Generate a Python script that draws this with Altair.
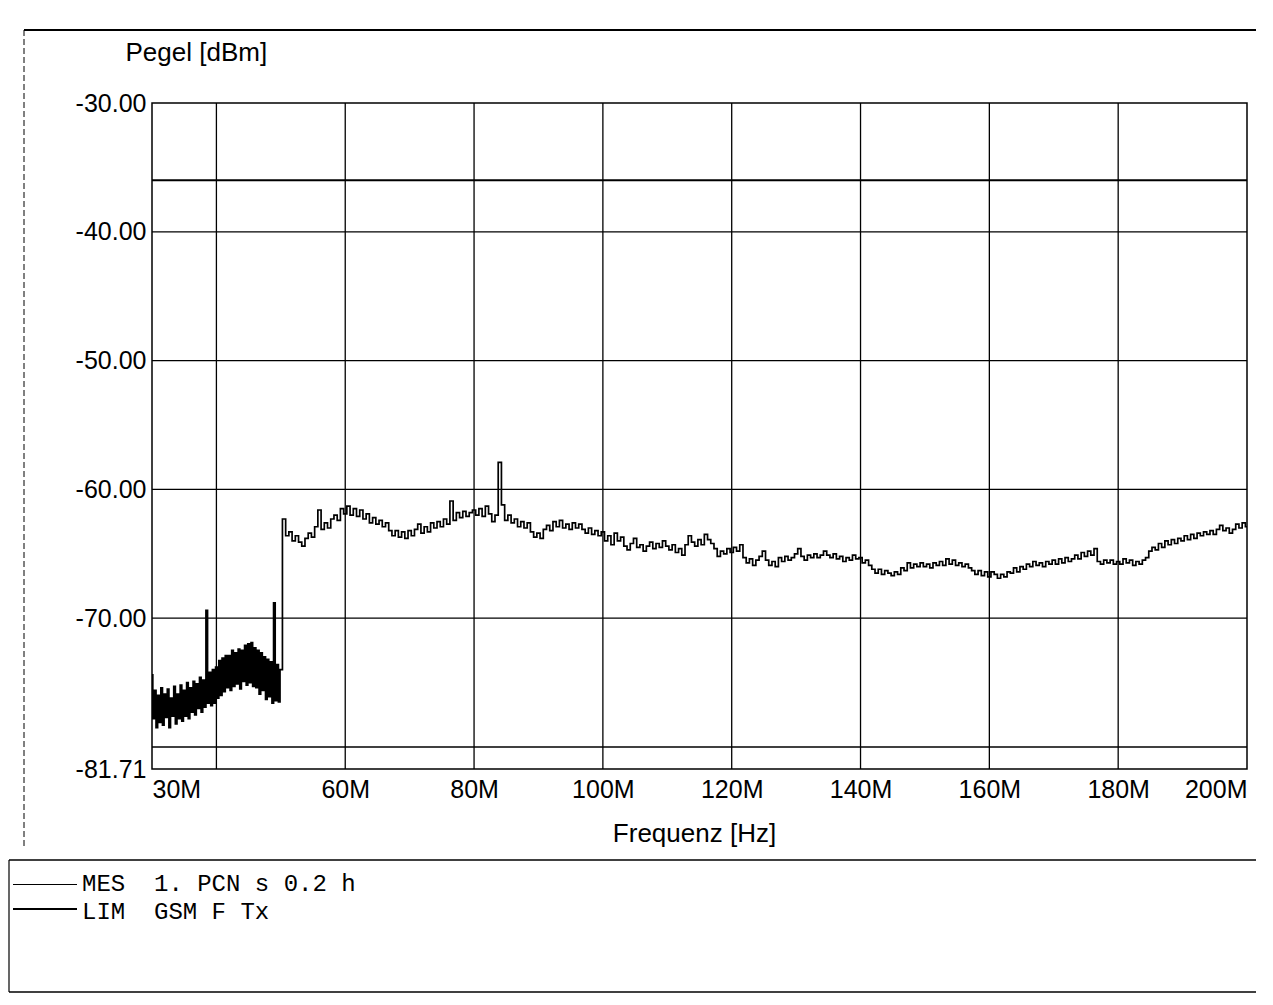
import altair as alt
import pandas as pd

# ---------------- data ----------------
X_TICKS = [30, 60, 80, 100, 120, 140, 160, 180, 200]          # MHz, shown as "xxM"
Y_TICKS = [-30.0, -40.0, -50.0, -60.0, -70.0, -81.71]         # dBm
GRID_X = [40, 60, 80, 100, 120, 140, 160, 180]
GRID_Y = [-40, -50, -60, -70, -80]
LIMIT_DBM = [-36.0]                                           # LIM  GSM F Tx
LEGEND_MES = "MES  1. PCN s 0.2 h"
LEGEND_LIM = "LIM  GSM F Tx"

# sweep 1: 30.00 .. 50.00 MHz, 0.25 MHz points
SEG1_START, SEG1_STEP = 30.0, 0.25
SEG1_LEVEL = [
    -74.4, -77.8, -75.6, -78.5,
    -76.0, -78.1, -75.4, -78.3,
    -75.9, -77.7, -75.5, -78.5,
    -76.2, -77.6, -75.3, -78.2,
    -75.9, -77.8, -75.2, -78.0,
    -75.6, -77.6, -75.0, -77.8,
    -75.4, -77.3, -74.9, -77.5,
    -75.1, -77.0, -74.6, -77.3,
    -74.8, -76.9, -69.4, -76.6,
    -74.2, -76.8, -74.0, -76.6,
    -73.8, -76.2, -73.3, -76.0,
    -73.1, -75.7, -72.9, -75.4,
    -72.9, -75.6, -72.5, -75.3,
    -72.7, -75.1, -72.4, -75.5,
    -72.5, -74.9, -72.1, -75.2,
    -72.0, -75.0, -71.9, -75.3,
    -72.3, -75.4, -72.5, -75.9,
    -72.7, -75.6, -73.0, -76.3,
    -73.2, -76.1, -73.4, -76.6,
    -68.8, -76.4, -73.6, -76.5,
    -74.0,
]

# sweep 2: 50.5 .. 200.0 MHz, 0.5 MHz points
SEG2_START, SEG2_STEP = 50.5, 0.5
SEG2_LEVEL = [
    # 50.5 .. 59.5
    -62.3, -63.6, -63.3, -64.0, -63.6, -64.1, -64.4, -63.8, -63.4, -63.7,
    -62.9, -61.6, -63.1, -62.6, -63.0, -62.3, -62.0, -62.4, -61.5,
    # 60 .. 69.5
    -61.9, -61.3, -62.0, -61.5, -62.1, -61.6, -62.3, -61.9, -62.6, -62.2,
    -62.7, -62.4, -62.9, -62.6, -63.2, -63.6, -63.2, -63.7, -63.3, -63.8,
    # 70 .. 79.5
    -63.2, -63.6, -63.1, -62.7, -63.4, -62.9, -63.3, -62.6, -63.0, -62.5,
    -62.9, -62.3, -62.7, -60.9, -62.4, -61.8, -62.2, -61.7, -62.1, -61.8,
    # 80 .. 89.5
    -61.6, -62.0, -61.5, -62.1, -61.3, -61.9, -62.5, -62.0, -57.9, -61.2,
    -62.4, -62.0, -62.6, -62.3, -62.9, -62.5, -63.0, -62.6, -63.3, -63.7,
    # 90 .. 99.5
    -63.4, -63.8, -63.1, -62.8, -63.2, -62.5, -62.9, -62.4, -63.0, -62.7,
    -63.1, -62.6, -63.0, -62.7, -63.1, -63.4, -63.0, -63.5, -63.2, -63.6,
    # 100 .. 109.5
    -63.3, -64.0, -63.6, -64.3, -63.4, -64.0, -63.7, -64.4, -64.7, -64.2,
    -63.8, -64.5, -64.3, -64.8, -64.4, -64.1, -64.6, -64.2, -64.5, -64.0,
    # 110 .. 119.5
    -64.4, -64.7, -64.3, -64.9, -64.6, -65.1, -64.3, -63.6, -64.1, -64.4,
    -63.9, -64.3, -63.5, -63.9, -64.2, -64.6, -65.2, -64.8, -65.0, -64.6,
    # 120 .. 129.5
    -64.9, -64.5, -64.8, -64.3, -65.3, -65.7, -65.4, -65.9, -65.5, -65.2,
    -64.8, -65.5, -65.9, -65.6, -66.0, -65.3, -65.6, -65.2, -65.5, -65.3,
    # 130 .. 139.5
    -65.0, -64.6, -65.2, -65.5, -65.1, -65.3, -65.0, -65.3, -65.1, -64.8,
    -65.1, -65.3, -65.0, -65.4, -65.2, -65.6, -65.3, -65.5, -65.1, -65.4,
    # 140 .. 149.5
    -65.3, -65.7, -65.5, -65.9, -66.2, -66.5, -66.2, -66.6, -66.3, -66.5,
    -66.7, -66.4, -66.6, -66.1, -66.3, -65.7, -66.1, -65.8, -66.0, -65.7,
    # 150 .. 159.5
    -66.0, -65.8, -66.1, -65.7, -65.9, -65.6, -65.9, -65.4, -65.8, -65.5,
    -65.9, -65.7, -66.0, -65.8, -66.1, -66.3, -66.6, -66.3, -66.7, -66.4,
    # 160 .. 169.5
    -66.8, -66.4, -66.6, -66.9, -66.6, -66.8, -66.4, -66.5, -66.1, -66.4,
    -66.0, -66.2, -65.8, -66.0, -65.6, -65.9, -65.7, -66.0, -65.6, -65.8,
    # 170 .. 179.5
    -65.5, -65.8, -65.4, -65.7, -65.3, -65.6, -65.4, -65.1, -65.4, -64.9,
    -65.2, -64.8, -65.1, -64.6, -65.6, -65.8, -65.5, -65.7, -65.5, -65.8,
    # 180 .. 189.5
    -65.6, -65.8, -65.4, -65.7, -65.5, -65.9, -65.6, -65.8, -65.5, -65.3,
    -64.8, -64.5, -64.7, -64.2, -64.5, -64.0, -64.3, -63.9, -64.2, -63.8,
    # 190 .. 200
    -64.0, -63.6, -63.9, -63.5, -63.8, -63.4, -63.6, -63.3, -63.5, -63.2,
    -63.5, -63.1, -62.8, -63.2, -63.0, -63.4, -63.1, -62.7, -63.0, -62.6,
    -62.9,
]

# ---------------- tables ----------------
freq = [SEG1_START + i * SEG1_STEP for i in range(len(SEG1_LEVEL))] + \
       [SEG2_START + i * SEG2_STEP for i in range(len(SEG2_LEVEL))]
trace_df = pd.DataFrame({"freq": freq, "level": SEG1_LEVEL + SEG2_LEVEL})
gx_df = pd.DataFrame({"freq": GRID_X})
gy_df = pd.DataFrame({"level": GRID_Y})
lim_df = pd.DataFrame({"level": LIMIT_DBM})
one = pd.DataFrame({"a": [0]})

FONT = "Liberation Sans"
MONO = "Liberation Mono"

x_scale = alt.Scale(domain=[30, 200], nice=False, zero=False)
y_scale = alt.Scale(domain=[-81.71, -30], nice=False, zero=False)

x_axis = alt.Axis(
    values=X_TICKS, labelExpr="datum.value + 'M'", labelFlush=True,
    labelOverlap=False, grid=False, ticks=False, domain=False,
    labelFont=FONT, labelFontSize=25, labelColor="black", labelPadding=8,
    title="Frequenz [Hz]", titleFont=FONT, titleFontSize=26,
    titleFontWeight="normal", titleColor="black",
    titleX=542, titleY=72, titleAlign="center", titleBaseline="alphabetic",
)
y_axis = alt.Axis(
    values=Y_TICKS,
    labelExpr="(datum.value < 0 ? '-' : '') + format(abs(datum.value), '.2f')",
    labelOverlap=False, grid=False,
    ticks=False, domain=False, labelFont=FONT, labelFontSize=25,
    labelColor="black", labelPadding=6,
    title="Pegel [dBm]", titleFont=FONT, titleFontSize=26,
    titleFontWeight="normal", titleColor="black", titleAngle=0,
    titleX=-27, titleY=-43, titleAlign="left", titleBaseline="alphabetic",
)

X_ENC = alt.X("freq:Q", scale=x_scale, axis=x_axis)
Y_ENC = alt.Y("level:Q", scale=y_scale, axis=y_axis)

trace = alt.Chart(trace_df).mark_line(
    color="black", strokeWidth=1.7, interpolate="step", clip=True
).encode(x=X_ENC, y=Y_ENC)

grid_v = alt.Chart(gx_df).mark_rule(color="black", strokeWidth=1.3).encode(x=X_ENC)
grid_h = alt.Chart(gy_df).mark_rule(color="black", strokeWidth=1.3).encode(y=Y_ENC)
limit = alt.Chart(lim_df).mark_rule(color="black", strokeWidth=2).encode(y=Y_ENC)

# page frame of the printout and the legend box
def hline(x1, x2, y, w=1.5, dash=None):
    kw = dict(color="black", strokeWidth=w)
    if dash:
        kw["strokeDash"] = dash
    return alt.Chart(one).mark_rule(**kw).encode(
        x=alt.value(x1), x2=alt.value(x2), y=alt.value(y))

def vline(x, y1, y2, w=1.2, dash=None):
    kw = dict(color="black", strokeWidth=w)
    if dash:
        kw["strokeDash"] = dash
    return alt.Chart(one).mark_rule(**kw).encode(
        x=alt.value(x), y=alt.value(y1), y2=alt.value(y2))

frame = [
    hline(-128, 1104, -73, 1.8),
    vline(-128, -73, 745, 1, [6, 3]),
    hline(-143, 1104, 757, 1.5),
    hline(-143, 1104, 889, 1.5),
    vline(-143, 757, 889, 1.2),
]

legend_sym = [
    hline(-139, -75, 781.5, 1.0),
    hline(-139, -75, 806, 2.0),
]

def legend_text(txt, y):
    return alt.Chart(one).mark_text(
        align="left", baseline="middle", font=MONO, fontSize=24, color="black"
    ).encode(x=alt.value(-70), y=alt.value(y),
             text=alt.value(txt.replace(" ", "\u00a0")))

texts = [legend_text(LEGEND_MES, 781), legend_text(LEGEND_LIM, 809)]

chart = alt.layer(
    trace, grid_v, grid_h, limit, *frame, *legend_sym, *texts
).properties(
    width=1095, height=666,
    autosize=alt.AutoSizeParams(type="none"),
    padding={"left": 144, "top": 95, "right": 14, "bottom": 226},
    background="white",
).configure_view(stroke="black", strokeWidth=1.5)

chart.save("out.html", embed_options={"renderer": "svg", "actions": False})
